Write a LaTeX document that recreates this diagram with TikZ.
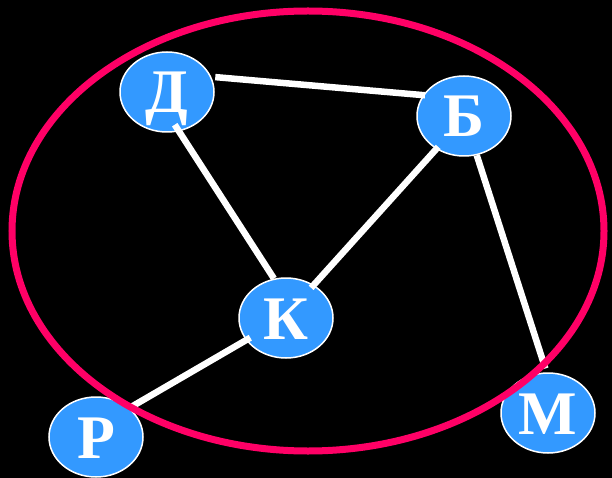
\documentclass[tikz,border=0pt]{standalone}
\usepackage{fontspec}
\setmainfont{Liberation Serif}
\usepackage{tikz}
\usetikzlibrary{shapes.geometric}

\definecolor{nodeblue}{RGB}{51,153,255}
\definecolor{ringpink}{RGB}{255,0,102}

\tikzset{
    vertex/.style={ellipse, draw=white, line width=1.5pt, fill=nodeblue,
        minimum width=94pt, minimum height=80pt, inner sep=0pt,
        text=white, text height=42pt, text depth=0pt,
        font=\bfseries\fontsize{62}{62}\selectfont},
    link/.style={draw=white, line width=6.5pt}
}

\begin{document}
\begin{tikzpicture}[x=1pt, y=-1pt]
    % Background
    \fill[black] (0,0) rectangle (612,478);
    \useasboundingbox (0,0) rectangle (612,478);

    % Towns
    \node[vertex] (D) at (167,92) {Д};
    \node[vertex] (B) at (464,116) {Б};
    \node[vertex] (K) at (286,318) {К};
    \node[vertex] (R) at (96,437) {Р};
    \node[vertex] (M) at (548,413) {М};

    % Roads (drawn over the towns)
    \foreach \from/\to/\sa/\sb in {D.19/B.153/4/-2, D.-73/K.107/-8/0,
        B.230/K.50/-3/-4, B.-72/M.92/0/4, K.209/R.41/-5/2} {
        \draw[link, shorten <=\sa pt, shorten >=\sb pt] (\from) -- (\to);
    }

    % Region border
    \draw[ringpink, line width=7pt] (308,231) ellipse [x radius=296, y radius=220];
\end{tikzpicture}
\end{document}
